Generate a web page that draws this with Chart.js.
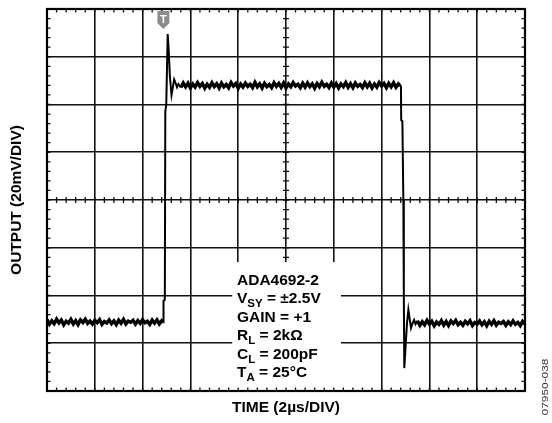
<!DOCTYPE html>
<html><head><meta charset="utf-8">
<script src="https://cdn.jsdelivr.net/npm/chart.js@4.4.1/dist/chart.umd.min.js"></script>
<style>html,body{margin:0;padding:0;background:#fff;overflow:hidden}</style>
</head><body>
<canvas id="c" width="552" height="423"></canvas>
<script>
// ---- Data (time in µs, output in mV) ----
const timeTicksUs = [0,2,4,6,8,10,12,14,16,18,20];
const outputTicksMv = [-80,-60,-40,-20,0,20,40,60,80];
const xTitle = "TIME (2µs/DIV)";
const yTitle = "OUTPUT (20mV/DIV)";
const figureId = "07950-038";
const triggerTimeUs = 4.87;

const baselineBefore = [
[0.0,-50.1],[0.1,-52.0],[0.2,-50.6],[0.3,-51.8],[0.4,-49.9],[0.5,-51.5],[0.6,-50.3],[0.7,-52.3],[0.8,-50.8],[0.9,-51.6],
[1.0,-50.0],[1.1,-51.9],[1.2,-50.5],[1.3,-52.2],[1.4,-50.2],[1.5,-51.3],[1.6,-49.9],[1.7,-51.7],[1.8,-50.7],[1.9,-52.0],
[2.0,-50.4],[2.1,-51.4],[2.2,-50.1],[2.3,-52.1],[2.4,-50.9],[2.5,-51.5],[2.6,-50.2],[2.7,-51.8],[2.8,-50.6],[2.9,-52.2],
[3.0,-50.3],[3.1,-51.6],[3.2,-50.0],[3.3,-51.9],[3.4,-50.7],[3.5,-51.2],[3.6,-50.4],[3.7,-52.0],[3.8,-50.5],[3.9,-51.7],
[4.0,-50.1],[4.1,-51.4],[4.2,-50.8],[4.3,-52.1],[4.4,-50.3],[4.5,-51.6],[4.6,-50.2],[4.7,-51.9],[4.8,-50.6],[4.87,-51.2]
];
const risingEdge = [
[4.875,-42.2],[4.93,-41.8],[4.95,37],[4.99,40],[5.05,69.5],[5.09,63],[5.14,52],[5.21,44],[5.27,47.5],[5.32,50.5],
[5.38,49],[5.44,47.2],[5.5,48.6]
];
const highLevel = [
[5.6,47.1],[5.7,49.0],[5.8,47.4],[5.9,48.9],[6.0,46.9],[6.1,48.6],[6.2,47.3],[6.3,49.2],[6.4,47.6],[6.5,48.8],
[6.6,46.8],[6.7,48.5],[6.8,47.2],[6.9,49.1],[7.0,47.5],[7.1,48.7],[7.2,46.9],[7.3,49.0],[7.4,47.4],[7.5,48.4],
[7.6,47.0],[7.7,49.2],[7.8,47.7],[7.9,48.8],[8.0,46.8],[8.1,48.6],[8.2,47.3],[8.3,49.0],[8.4,47.6],[8.5,48.5],
[8.6,47.1],[8.7,49.3],[8.8,47.4],[8.9,48.7],[9.0,46.9],[9.1,48.9],[9.2,47.5],[9.3,48.4],[9.4,47.0],[9.5,49.1],
[9.6,47.6],[9.7,48.8],[9.8,47.2],[9.9,49.0],[10.0,46.9],[10.1,48.6],[10.2,47.4],[10.3,49.2],[10.4,47.7],[10.5,48.5],
[10.6,47.0],[10.7,48.9],[10.8,47.3],[10.9,49.1],[11.0,47.5],[11.1,48.7],[11.2,46.8],[11.3,48.8],[11.4,47.4],[11.5,49.3],
[11.6,47.6],[11.7,48.5],[11.8,47.1],[11.9,49.0],[12.0,47.3],[12.1,48.8],[12.2,46.9],[12.3,48.6],[12.4,47.5],[12.5,49.2],
[12.6,47.2],[12.7,48.7],[12.8,47.0],[12.9,49.0],[13.0,47.6],[13.1,48.4],[13.2,47.1],[13.3,49.1],[13.4,47.4],[13.5,48.9],
[13.6,46.9],[13.7,48.6],[13.8,47.3],[13.9,49.2],[14.0,47.7],[14.1,48.8],[14.2,47.0],[14.3,48.9],[14.4,47.4],[14.5,49.1],
[14.6,47.2],[14.7,48.6],[14.78,47.8]
];
const fallingEdge = [
[14.81,48],[14.82,33.5],[14.87,33],[14.91,0],[14.93,-40],[14.95,-70.4],[15.0,-62],[15.06,-52],[15.12,-46],[15.17,-49.5],
[15.23,-53.6],[15.3,-51.5],[15.36,-50.2],[15.42,-52]
];
const baselineAfter = [
[15.5,-50.6],[15.6,-52.5],[15.7,-51.0],[15.8,-52.3],[15.9,-50.4],[16.0,-52.0],[16.1,-50.8],[16.2,-52.7],[16.3,-51.1],[16.4,-52.1],
[16.5,-50.5],[16.6,-52.4],[16.7,-50.9],[16.8,-52.6],[16.9,-50.7],[17.0,-51.8],[17.1,-50.4],[17.2,-52.2],[17.3,-51.2],[17.4,-52.5],
[17.5,-50.8],[17.6,-51.9],[17.7,-50.6],[17.8,-52.6],[17.9,-51.3],[18.0,-52.0],[18.1,-50.7],[18.2,-52.3],[18.3,-51.0],[18.4,-52.7],
[18.5,-50.8],[18.6,-52.1],[18.7,-50.5],[18.8,-52.4],[18.9,-51.2],[19.0,-51.7],[19.1,-50.9],[19.2,-52.5],[19.3,-51.0],[19.4,-52.2],
[19.5,-50.6],[19.6,-52.1],[19.7,-51.3],[19.8,-52.6],[19.9,-50.8],[20.0,-51.9]
];
const conditionLines = [
  ["ADA4692-2", "", ""],
  ["V", "SY", " = ±2.5V"],
  ["GAIN = +1", "", ""],
  ["R", "L", " = 2kΩ"],
  ["C", "L", " = 200pF"],
  ["T", "A", " = 25°C"]
];

const segments = [baselineBefore, risingEdge, highLevel, fallingEdge, baselineAfter];
const flatFlags = [true, false, true, false, true];
const trace = [].concat(...segments).map(p => ({x: p[0], y: p[1]}));
// which point indices belong to the flat (noisy) parts
const flatIndex = [];
segments.forEach((s, k) => s.forEach(() => flatIndex.push(flatFlags[k])));

const FONT = '"Liberation Sans", Arial, Helvetica, sans-serif';

const scopePlugin = {
  id: 'scope',
  beforeDatasetsDraw(chart) {
    const ctx = chart.ctx, xs = chart.scales.x, ys = chart.scales.y, a = chart.chartArea;
    ctx.save();
    ctx.strokeStyle = '#111';
    ctx.lineWidth = 1.3;
    const cx = xs.getPixelForValue(10), cy = ys.getPixelForValue(0);
    ctx.beginPath();
    for (let v = -80; v <= 80; v += 4) {
      const py = ys.getPixelForValue(v);
      ctx.moveTo(cx - 3, py); ctx.lineTo(cx + 3, py);
    }
    for (let t = 0; t <= 20.001; t += 0.4) {
      const px = xs.getPixelForValue(t);
      ctx.moveTo(px, cy - 3); ctx.lineTo(px, cy + 3);
    }
    ctx.stroke();
    const bx0 = xs.getPixelForValue(7.75), bx1 = xs.getPixelForValue(12.3);
    const by0 = ys.getPixelForValue(-26);
    ctx.fillStyle = '#fff';
    ctx.fillRect(bx0, by0, bx1 - bx0, a.bottom - by0);
    ctx.beginPath();
    for (let t = 0; t <= 20.001; t += 0.4) {
      const px = xs.getPixelForValue(t);
      ctx.moveTo(px, a.top); ctx.lineTo(px, a.top + 3.5);
      ctx.moveTo(px, a.bottom); ctx.lineTo(px, a.bottom - 3.5);
    }
    for (let v = -80; v <= 80; v += 4) {
      const py = ys.getPixelForValue(v);
      ctx.moveTo(a.left, py); ctx.lineTo(a.left + 3.5, py);
      ctx.moveTo(a.right, py); ctx.lineTo(a.right - 3.5, py);
    }
    ctx.stroke();
    ctx.lineWidth = 2.2;
    ctx.strokeStyle = '#000';
    ctx.strokeRect(a.left, a.top, a.right - a.left, a.bottom - a.top);
    ctx.restore();
  },
  afterDatasetsDraw(chart) {
    const ctx = chart.ctx, xs = chart.scales.x, ys = chart.scales.y, a = chart.chartArea;
    ctx.save();
    const tx = xs.getPixelForValue(triggerTimeUs);
    const top = a.top + 2;
    ctx.fillStyle = '#8c8c8c';
    ctx.beginPath();
    ctx.moveTo(tx - 6, top); ctx.lineTo(tx + 6, top); ctx.lineTo(tx + 6, top + 12);
    ctx.lineTo(tx, top + 18); ctx.lineTo(tx - 6, top + 12); ctx.closePath();
    ctx.fill();
    ctx.fillStyle = '#fff';
    ctx.font = 'bold 11px ' + FONT;
    ctx.textAlign = 'center'; ctx.textBaseline = 'alphabetic';
    ctx.fillText('T', tx, top + 12);
    ctx.fillStyle = '#000';
    ctx.textAlign = 'left';
    const x0 = xs.getPixelForValue(7.95);
    let base = ys.getPixelForValue(-35.5);
    for (const [main, sub, rest] of conditionLines) {
      ctx.font = 'bold 15.5px ' + FONT;
      let x = x0;
      ctx.fillText(main, x, base);
      x += ctx.measureText(main).width;
      if (sub) {
        ctx.font = 'bold 11.5px ' + FONT;
        ctx.fillText(sub, x, base + 4);
        x += ctx.measureText(sub).width;
        ctx.font = 'bold 15.5px ' + FONT;
        ctx.fillText(rest, x, base);
      }
      base += 18.5;
    }
    ctx.font = 'bold 15.5px ' + FONT;
    ctx.textAlign = 'center';
    ctx.fillText(xTitle, (a.left + a.right) / 2, 412);
    ctx.save();
    ctx.translate(21, (a.top + a.bottom) / 2);
    ctx.rotate(-Math.PI / 2);
    ctx.fillText(yTitle, 0, 0);
    ctx.restore();
    ctx.save();
    ctx.fillStyle = '#333';
    ctx.font = '9.5px ' + FONT;
    ctx.translate(548, 387);
    ctx.rotate(-Math.PI / 2);
    ctx.scale(1.25, 1);
    ctx.fillText(figureId, 0, 0);
    ctx.restore();
    ctx.restore();
  }
};

new Chart(document.getElementById('c'), {
  type: 'scatter',
  data: {
    datasets: [{
      data: trace,
      showLine: true,
      borderColor: '#000',
      borderWidth: 2,
      pointRadius: 0,
      tension: 0,
      fill: false,
      segment: {
        borderWidth: c => (flatIndex[c.p0DataIndex] && flatIndex[c.p1DataIndex]) ? 3.4 : 2
      }
    }]
  },
  options: {
    responsive: false,
    animation: false,
    devicePixelRatio: 1,
    layout: { padding: { left: 47, right: 27, top: 9, bottom: 32 } },
    plugins: { legend: { display: false }, tooltip: { enabled: false } },
    scales: {
      x: {
        type: 'linear', min: 0, max: 20,
        afterBuildTicks: s => { s.ticks = timeTicksUs.map(v => ({ value: v })); },
        ticks: { display: false },
        grid: { color: '#111', lineWidth: 1.6, drawTicks: false },
        border: { display: false },
        title: { display: false }
      },
      y: {
        type: 'linear', min: -80, max: 80,
        afterBuildTicks: s => { s.ticks = outputTicksMv.map(v => ({ value: v })); },
        ticks: { display: false },
        grid: { color: '#111', lineWidth: 1.6, drawTicks: false },
        border: { display: false },
        title: { display: false }
      }
    }
  },
  plugins: [scopePlugin]
});
</script>
</body></html>
